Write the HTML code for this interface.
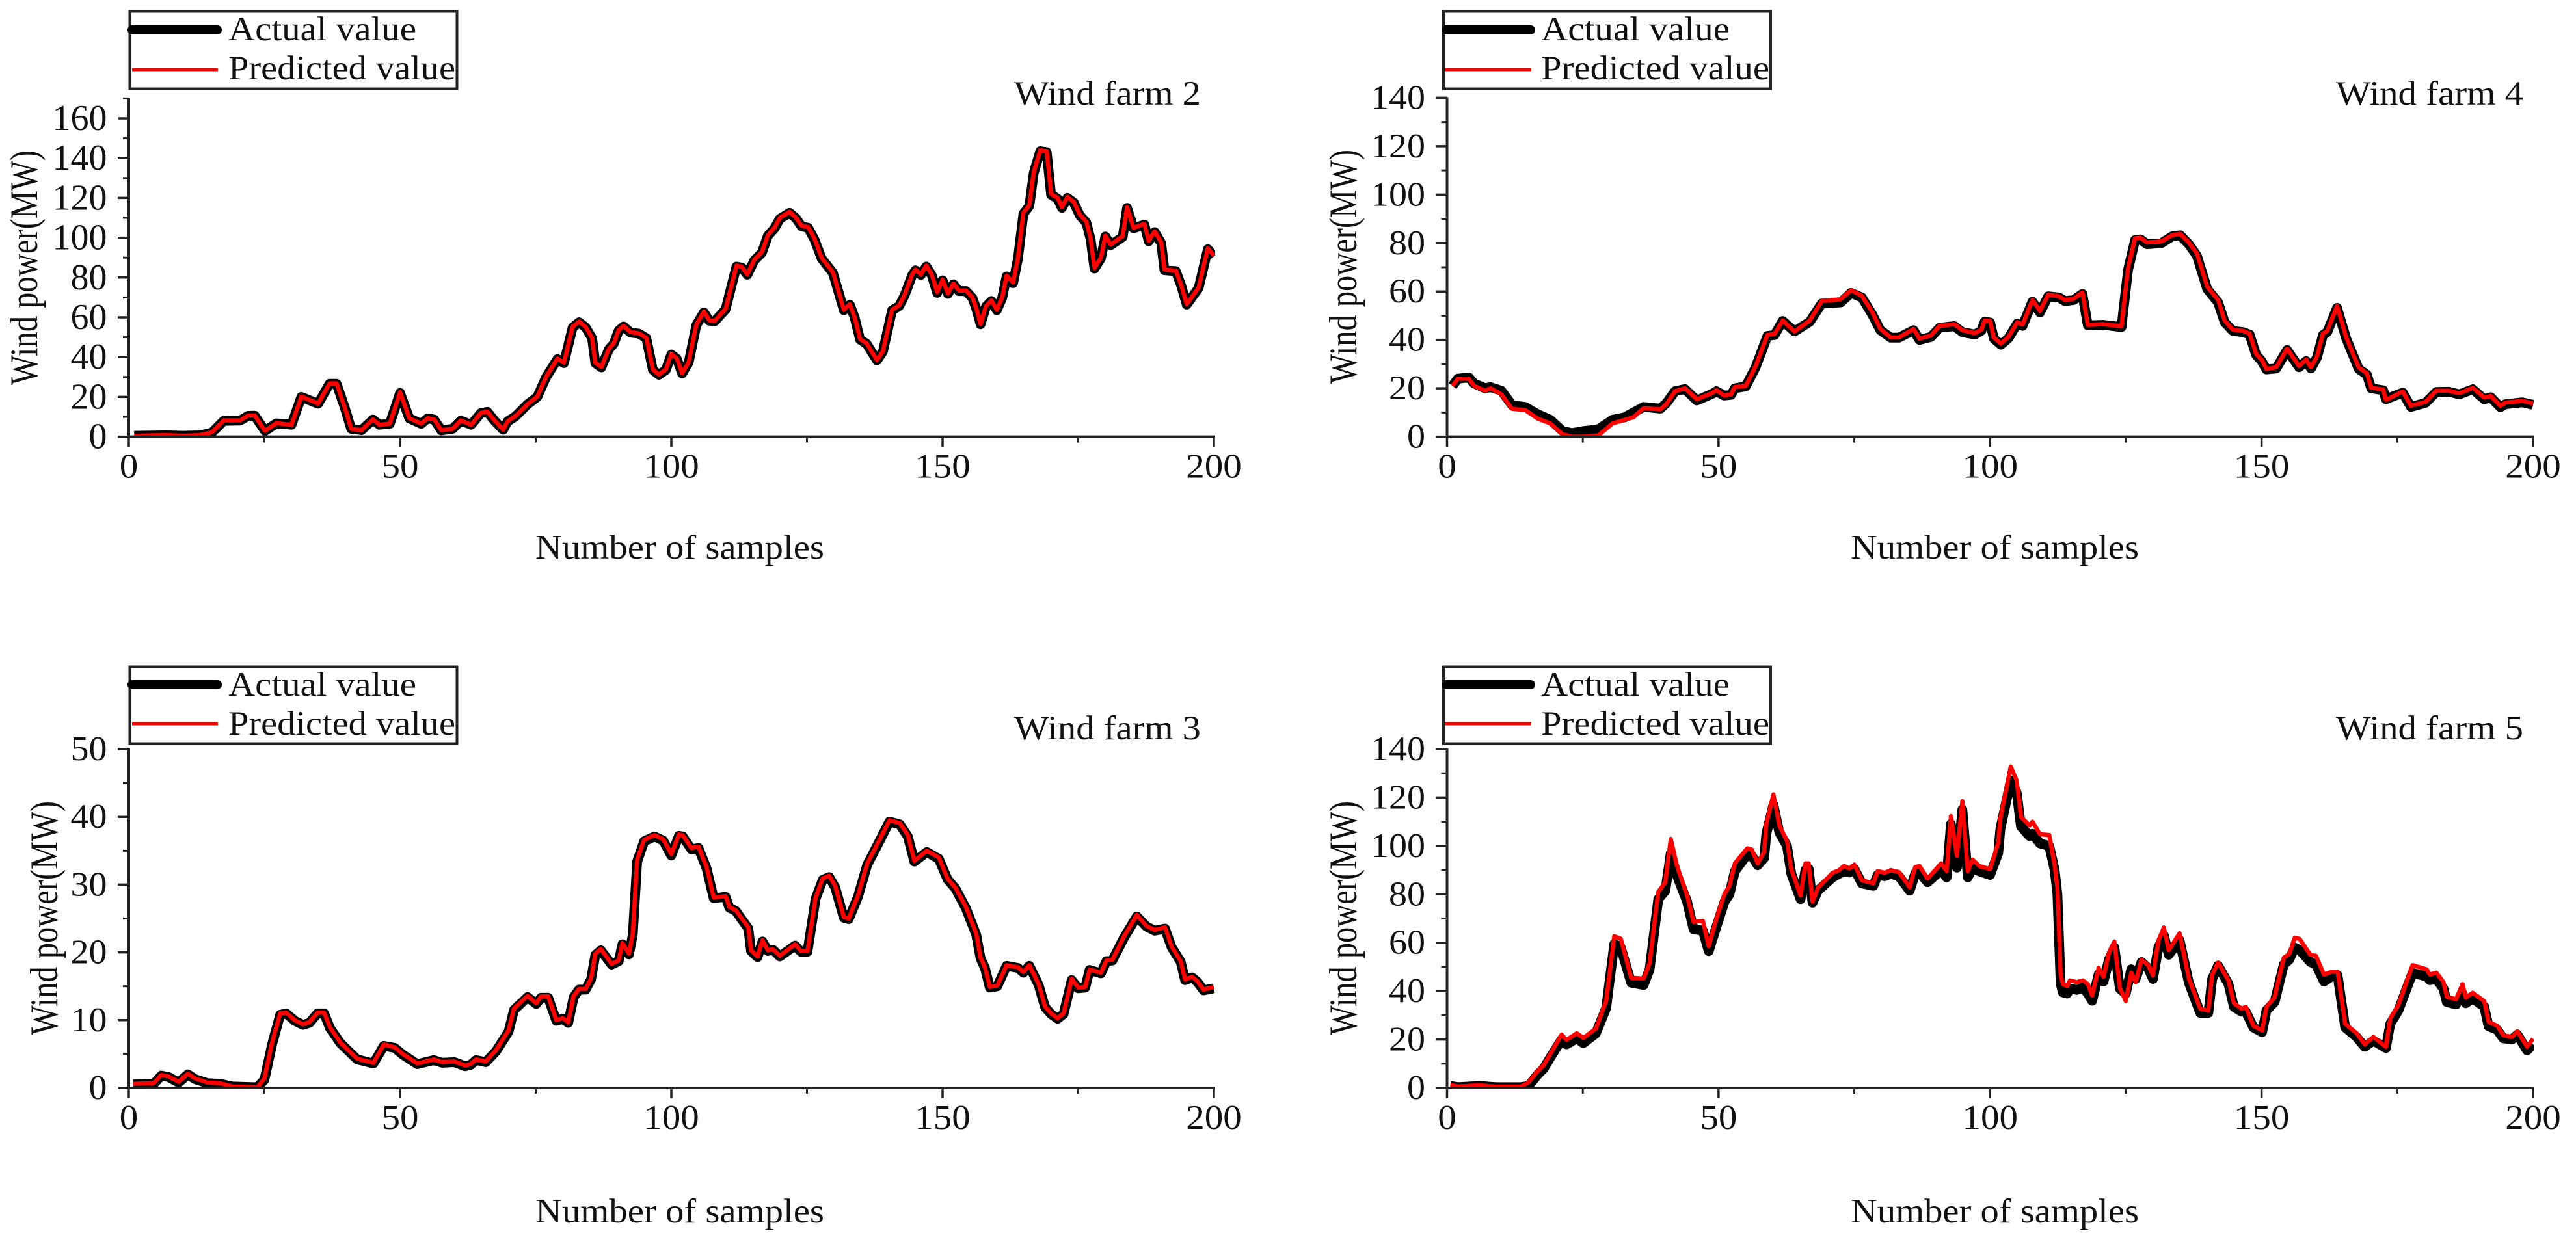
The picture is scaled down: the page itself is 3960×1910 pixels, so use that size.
<!DOCTYPE html>
<html lang="en">
<head>
<meta charset="utf-8">
<title>Wind power prediction for four wind farms</title>
<style>
html,body{margin:0;padding:0;background:#fff;width:3960px;height:1910px;overflow:hidden}
svg{display:block;position:absolute;left:0;top:0}
text{font-family:"Liberation Serif",serif;fill:#111}
.legend-text,.title-text{font-size:53px}
.x-title{font-size:53px}
.y-title{font-size:60px}
</style>
</head>
<body>
<svg id="figure" width="3960" height="1910" viewBox="0 0 3960 1910" xmlns="http://www.w3.org/2000/svg">
  <rect x="0" y="0" width="3960" height="1910" fill="#fff"/>

  <g id="panel-wf2"></g>
  <g id="panel-wf4"></g>
  <g id="panel-wf3"></g>
  <g id="panel-wf5"></g>

  <!-- wind farm 2 labels -->
  <g>
    <rect x="199.5" y="17.5" width="503" height="119" fill="#fff" stroke="#222" stroke-width="4"/>
    <line x1="203" y1="46" x2="334" y2="46" stroke="#000" stroke-width="14" stroke-linecap="round"/>
    <line x1="203" y1="107" x2="335" y2="107" stroke="#f00" stroke-width="5"/>
    <text class="legend-text" x="351" y="62" textLength="289" lengthAdjust="spacingAndGlyphs">Actual value</text>
    <text class="legend-text" x="351" y="122" textLength="349" lengthAdjust="spacingAndGlyphs">Predicted value</text>
  </g>
  <text class="title-text" x="1559" y="161" textLength="287" lengthAdjust="spacingAndGlyphs">Wind farm 2</text>
  <text class="x-title" x="823" y="859" textLength="444" lengthAdjust="spacingAndGlyphs">Number of samples</text>
  <text class="y-title" transform="translate(57,592) rotate(-90)" textLength="361" lengthAdjust="spacingAndGlyphs">Wind power(MW)</text>

  <!-- wind farm 4 labels -->
  <g>
    <rect x="2219" y="17.5" width="503" height="119" fill="#fff" stroke="#222" stroke-width="4"/>
    <line x1="2223" y1="46" x2="2353" y2="46" stroke="#000" stroke-width="14" stroke-linecap="round"/>
    <line x1="2221" y1="107" x2="2354" y2="107" stroke="#f00" stroke-width="5"/>
    <text class="legend-text" x="2369" y="62" textLength="290" lengthAdjust="spacingAndGlyphs">Actual value</text>
    <text class="legend-text" x="2369" y="122" textLength="351" lengthAdjust="spacingAndGlyphs">Predicted value</text>
  </g>
  <text class="title-text" x="3591" y="161" textLength="288" lengthAdjust="spacingAndGlyphs">Wind farm 4</text>
  <text class="x-title" x="2845" y="859" textLength="443" lengthAdjust="spacingAndGlyphs">Number of samples</text>
  <text class="y-title" transform="translate(2085,590) rotate(-90)" textLength="360" lengthAdjust="spacingAndGlyphs">Wind power(MW)</text>

  <!-- wind farm 3 labels -->
  <g>
    <rect x="199.5" y="1025.5" width="503" height="118" fill="#fff" stroke="#222" stroke-width="4"/>
    <line x1="203" y1="1053" x2="334" y2="1053" stroke="#000" stroke-width="14" stroke-linecap="round"/>
    <line x1="203" y1="1113" x2="335" y2="1113" stroke="#f00" stroke-width="5"/>
    <text class="legend-text" x="351" y="1070" textLength="289" lengthAdjust="spacingAndGlyphs">Actual value</text>
    <text class="legend-text" x="351" y="1130" textLength="349" lengthAdjust="spacingAndGlyphs">Predicted value</text>
  </g>
  <text class="title-text" x="1559" y="1137" textLength="287" lengthAdjust="spacingAndGlyphs">Wind farm 3</text>
  <text class="x-title" x="823" y="1880" textLength="444" lengthAdjust="spacingAndGlyphs">Number of samples</text>
  <text class="y-title" transform="translate(88,1592) rotate(-90)" textLength="360" lengthAdjust="spacingAndGlyphs">Wind power(MW)</text>

  <!-- wind farm 5 labels -->
  <g>
    <rect x="2219" y="1025.5" width="503" height="118" fill="#fff" stroke="#222" stroke-width="4"/>
    <line x1="2223" y1="1053" x2="2353" y2="1053" stroke="#000" stroke-width="14" stroke-linecap="round"/>
    <line x1="2221" y1="1113" x2="2354" y2="1113" stroke="#f00" stroke-width="5"/>
    <text class="legend-text" x="2369" y="1070" textLength="290" lengthAdjust="spacingAndGlyphs">Actual value</text>
    <text class="legend-text" x="2369" y="1130" textLength="351" lengthAdjust="spacingAndGlyphs">Predicted value</text>
  </g>
  <text class="title-text" x="3591" y="1137" textLength="288" lengthAdjust="spacingAndGlyphs">Wind farm 5</text>
  <text class="x-title" x="2845" y="1880" textLength="443" lengthAdjust="spacingAndGlyphs">Number of samples</text>
  <text class="y-title" transform="translate(2085,1592) rotate(-90)" textLength="360" lengthAdjust="spacingAndGlyphs">Wind power(MW)</text>
</svg>

<script>
const xTickLabels = [0, 50, 100, 150, 200];
const xMinorTicks = [25, 75, 125, 175];

const wf2YTicks = [0, 20, 40, 60, 80, 100, 120, 140, 160];
const wf2YMinor = [10, 30, 50, 70, 90, 110, 130, 150, 170];
const wf4YTicks = [0, 20, 40, 60, 80, 100, 120, 140];
const wf4YMinor = [10, 30, 50, 70, 90, 110, 130];
const wf3YTicks = [0, 10, 20, 30, 40, 50];
const wf3YMinor = [5, 15, 25, 35, 45];
const wf5YTicks = [0, 20, 40, 60, 80, 100, 120, 140];
const wf5YMinor = [10, 30, 50, 70, 90, 110, 130];

const wf2Samples = [1,7,10,13,15.3,17.5,20.5,22,23.2,25.1,27.2,30,31.8,34.9,37,38.3,39.8,41,42.9,45,46.2,48.1,50,51.7,53.9,55.1,56.3,57.6,59.7,61.2,63.1,64.9,66.1,67.4,69,69.8,71.3,73.5,75.3,76.9,79,80.2,81.8,83,84.2,85.4,86,87.1,88.5,89.4,90.3,91.2,92.5,94,95.4,96.6,97.7,99,100,101,102,103.2,104.6,106,107,108,110,112,113,114,115.3,116.7,117.8,119,120,121.8,123,124,125.2,126.4,127.7,129.8,131.8,132.9,133.8,134.8,136,137.9,139,140.7,142,143,144.4,145,146,147,148,149,150,151,152,153,154.3,155.5,156.2,157,158,159,160,161,161.8,163,163.9,164.9,166,166.8,168,169.2,170,171.2,172,173,174.2,175.3,176.5,177.3,178,179.2,180,181,183.2,184,185.2,187.2,188,189.1,190.3,190.9,193,194,195,197.2,198.9,200];
const wf2Predicted = [0.5,0.8,0.5,0.8,2.2,8.2,8.2,10.7,10.7,3,6.8,6,20.2,16.7,26.8,26.8,14.8,4,3.3,8.7,6,6.6,22.4,9.3,6.6,9.3,8.7,3.3,4,8.2,6,12,12.6,8.2,3.6,7.7,10.4,16.4,20.2,30,39.3,37.2,55.2,57.9,55.2,49.7,37.2,35,44.3,47,53.6,55.7,52.5,52,49.7,33.8,31.3,33.8,41.6,39.4,31.9,37.5,56.3,62.9,58.5,58.2,64.2,86,85.4,81.6,89,92.9,101.3,105,110,113,110,106,105.4,99.4,90,82.6,63.8,66.6,60,49,46.9,38.5,43,63.8,66,71.3,81.6,84,81.6,86,81.6,72.6,79,72,77,73.5,73.5,70,64.7,56.7,65.7,68.5,63.8,70,81,77.5,90,112.6,116.3,133,144,143.5,122,120,115.4,120.5,118,111.6,108,99.4,84.8,90,101,96.6,100.8,115.4,105,107,98.5,103.2,97.6,84,83.5,76,66.6,75,94.7,91];
const wf2Actual = [0.5,0.7,0.5,0.7,2,8,8.1,10.5,10.6,2.9,6.7,6,20,16.6,26.6,26.6,14.7,4,3.3,8.6,6,6.5,22,9.2,6.5,9.2,8.6,3.2,4,8.1,6,11.9,12.5,8.1,3.5,7.6,10.3,16.3,20,29.8,39,37,54.8,57.5,55,49.5,37,34.8,44,46.8,53.3,55.4,52.3,51.8,49.5,33.6,31.1,33.6,41.3,39.2,31.8,37.3,56,62.5,58.3,58,64,85.5,85,81.4,88.6,92.5,101,104.6,109.5,112.5,109.7,105.7,105,99,89.6,82.3,63.6,66.3,59.8,48.8,46.7,38.4,42.8,63.5,65.7,71,81.2,83.6,81.3,85.5,81.2,72.3,78.6,71.8,76.6,73.2,73.2,69.7,64.4,56.5,65.4,68.2,63.6,69.8,80.6,77.2,89.6,112,116,132.5,143.5,143,121.6,119.6,115,120,117.6,111.2,107.6,99,84.5,89.7,100.6,96.3,100.4,115,104.7,106.6,98.2,102.8,97.2,83.7,83.2,75.8,66.4,74.7,94.2,90.6];

const wf4Samples = [1,2,4,5,7,8,10,12,14.4,16.7,19,21.3,23,25,27.8,30.5,32.7,34.3,36.2,39.3,40.4,42,43.8,46,48.8,49.6,51,52.3,53,55,56.8,59,60.3,61.8,64,66.8,69,72.5,74.4,76.4,78.3,79.8,81.7,83.2,85.9,87,89.1,90.7,93.4,94.9,97.2,98.4,99,100,100.7,102,103.4,105,106,107.8,109.2,110.7,112.7,113.8,115.4,117,118,120.8,124.2,125.4,126.7,127.7,128.9,131.6,133.5,135,136.6,138.1,140,142,143.2,144.7,146.6,147.8,149,150,150.9,152.7,154.7,156.9,158.2,159.1,160.2,161.3,162.1,163.9,165.6,167.9,169.4,170.2,172.4,172.9,176,177.5,180.2,182.2,184.5,186.4,188.9,191,192.2,194,194.9,198,200];
const wf4Predicted = [21,24,24,21,19,20,17.5,11.5,11,7.5,5.5,1,0,0,0.5,5.5,7,8,11.8,11.3,13.5,18.8,20,15.5,18,19.3,17,17.5,20.5,21,29,42,42.5,48,43.5,48,56,56.8,60.5,58.2,51.5,44.5,41,41,44.5,40.5,41.8,45.8,46.5,44,42.8,44.2,48,47.8,41,38.5,41.3,47.3,46.3,56.5,52,58.6,58,56.5,57,59.6,46.2,46.5,45.7,69.6,82,82.2,80.2,80.7,83.2,83.8,80.2,75.7,62,56.5,48,44.2,43.7,42.6,34.2,31.8,28,28.7,36.4,29.2,31.8,28.7,33.2,42.6,43.7,53.9,41,28.6,26.2,20.2,19.5,15.2,18.7,12.8,14.4,19,19,17.9,20.2,16.2,16.8,12.8,14.1,14.8,13.8];
const wf4Actual = [21,24,24.5,22,20,20.5,19,13,12.3,9.3,7,2.3,1.5,2.3,3,7,8,10,12.3,11.6,13.9,18.8,19.7,15,17.7,18.8,17,17.3,20,20.8,28.5,41.6,42,47.8,43.5,47.5,55,55.5,59.4,57.5,50.5,44,40.9,40.9,44,40,41.2,45,45.7,43.2,42.2,43.8,47.5,47.2,40.5,38,40.7,46.7,45.8,55.8,51.3,58,57.5,56,56.5,59,46,46.2,45.3,68.8,81.2,81.5,79.5,80,82.7,83.2,79.5,74.7,61,55.5,47.3,43.7,43.2,42.2,33.8,31.3,27.8,28.2,35.8,28.7,31.2,28.2,32.7,42,43.2,53.2,40.5,28,25.6,20,19.2,15.5,18.2,12.3,14,18.5,18.6,17.5,19.6,15.5,16.3,12.2,13.4,14.2,13.2];

const wf3Samples = [0.8,4.6,6,7.3,9.2,10.9,12.2,14.5,16.8,19.1,23.7,25,26.4,27.9,29,30.6,32.1,33.3,34.8,36,37.1,39,42.1,45.1,47,49,50.5,53.2,56.2,57.8,60,62,63,64,65.8,67.7,70,71,73.5,75.1,76,77.3,78.8,80,81,82,83,84.2,85.2,86,87,89,90.3,91,92.2,92.9,93.7,95,96.9,98.5,100,101.4,102.1,103.7,105,106.5,107.8,110,110.7,111.9,114.2,114.7,115.9,116.8,117.8,118.7,120,122.8,123.9,125.1,126.6,127.9,129.1,130.2,131.8,132.7,134.4,136.1,138.1,140.2,142.1,143.6,144.8,147.1,149.3,150.9,152.4,154.3,156.2,157,157.8,158.7,160.1,161.8,163.9,164.9,166,167.7,168.9,170,171.2,172.3,173.8,175,176.3,177.1,179.2,180.2,181.3,183.4,185.8,187.6,189.1,191,192.2,193.9,194.7,196,197,198.1,200];
const wf3Predicted = [0.6,0.7,1.9,1.7,0.9,2.1,1.4,0.8,0.7,0.2,0.1,1.4,6.7,11,11.1,10,9.4,9.7,11.1,11.1,8.9,6.7,4.3,3.7,6.4,6,5,3.6,4.2,3.8,3.9,3.3,3.5,4.2,3.9,5.6,8.5,11.7,13.6,12.5,13.5,13.5,10,10.3,9.7,13.6,14.6,14.6,16.1,19.8,20.5,18.3,18.8,21.4,19.8,22.8,33.7,36.6,37.3,36.7,34.5,37.4,37.3,35.4,35.6,32.6,28.1,28.3,26.7,26.2,23.7,20.3,19.4,21.8,20.3,20.5,19.5,21.2,20.2,20.2,28.1,30.9,31.3,29.8,25.2,25,28.4,33.1,36.2,39.5,39.1,37.3,33.5,35,34,30.9,29.5,26.7,22.8,19.2,17.8,14.9,15.1,18.1,17.8,17.1,18.1,15.3,12,11,10.3,11,16.1,14.8,14.9,17.5,17,18.8,18.9,22.3,25.5,23.9,23.3,23.7,20.9,18.7,16,16.4,15.7,14.5,14.9];
const wf3Actual = [0.5,0.6,1.8,1.6,0.8,2,1.3,0.7,0.6,0.2,0.1,1.2,6.4,10.8,11,9.9,9.3,9.6,11,11,8.8,6.6,4.2,3.6,6.2,5.9,4.9,3.5,4.1,3.7,3.8,3.2,3.4,4.1,3.8,5.4,8.3,11.5,13.4,12.4,13.3,13.3,9.9,10.2,9.6,13.4,14.5,14.5,16,19.6,20.3,18.2,18.7,21.2,19.7,22.6,33.4,36.4,37.1,36.5,34.3,37.2,37.1,35.2,35.4,32.4,28,28.2,26.6,26.1,23.5,20.2,19.3,21.6,20.2,20.4,19.4,21,20.1,20.1,27.9,30.7,31.1,29.6,25.1,24.9,28.2,32.9,36,39.3,38.9,37.1,33.4,34.8,33.8,30.8,29.4,26.5,22.6,19.1,17.7,14.8,15,18,17.7,17,18,15.2,11.9,10.9,10.2,10.9,15.9,14.7,14.8,17.4,16.9,18.7,18.8,22.1,25.3,23.8,23.2,23.5,20.8,18.6,15.9,16.3,15.6,14.4,14.7];

const wf5Samples = [0.6,2.1,6,9,13.6,15,16.7,17.8,19,21.1,22,23.9,25.1,27.4,29.3,30.8,32,33.9,36.2,37.3,38.9,40.2,41.2,42.3,44.2,45.4,47.1,48.2,49.6,51.1,52,53,55.3,56.1,57.2,58.4,58.8,60.1,61.2,62.6,63.4,65.1,66,66.6,67.3,68.3,71,72.2,73.1,74.1,75,76.4,78.5,79.3,80.6,81.7,83.2,85.2,86.2,87,88.5,91,92,92.8,93.9,94.9,95.9,96.8,98,100,101.5,101.9,103.8,104.9,105.7,107.3,107.8,109.2,110.9,111.9,112.4,113,113.4,114.2,114.7,116,117.1,118,118.8,120,120.9,121.9,122.9,123.9,125,126,126.8,127.9,129.1,130,131,132,132.9,134.9,136.6,138.7,140.2,140.9,142,143.9,144.9,146.3,147.1,148.5,150.1,150.9,152.4,154.1,155.1,156.1,157,159,160,161.5,162.9,164,165.4,167.5,169,170.6,172.9,173.7,175.2,177.8,180.4,181,182.2,183.5,184.1,185.8,187,187.6,188.9,191,191.8,193.4,194.5,196.1,197.1,198.9,200];
const wf5Predicted = [1.2,0.6,1.1,0.5,0.5,2.3,7,9.4,14,22,19.8,22.6,20.6,24.5,35.9,62.7,61.6,45.5,45.2,51.5,81,85,102.9,92,79.5,68.6,69,58.5,69.8,80.3,83.4,92.8,99,98.5,92.8,97.4,109,121.3,108.4,102,90.4,79.5,92.8,92.8,77,82.6,88.9,90,91.7,90.7,92.3,85.8,84.5,89.6,88.9,90,89.2,82.9,91.2,91.7,86.5,92.8,89.6,112.3,95.9,118.5,89.6,94.3,91.7,90.4,101.3,111.4,132.8,127,112,108.4,110,104.8,104.5,92,82.6,46.8,42.9,42,44.4,43.7,44.4,42.9,38.2,49.6,46,56,60.5,41.3,35.9,47.6,43.7,53,50.7,46.5,60.8,66.3,56.9,63.9,45.2,32.7,32,46.8,51.8,44.4,35,32.7,33.5,25.7,23.7,33.5,37.4,53.8,55.3,62,61.6,54.9,54.6,46.8,48,48,26.5,22.6,18,21,17,28.8,34.3,50.7,49,46.8,47.6,43.7,37.7,36.6,42.9,37.4,39.3,35.9,27.3,25.7,21.8,21,23.4,17,20.3];
const wf5Actual = [0.8,0.3,0.8,0.3,0.3,0.8,5.5,8,12.5,20,18,20.5,18.5,22.5,33,59.5,58,43.5,42.5,49,78,81.5,97,88,77,65.5,65,56.5,66.5,77,80,89.5,96.5,96,92,95,105,117,105.5,100,88.5,78,90,90.5,76.5,81.5,87,88.5,89.5,89,90.5,84.5,83.5,88,87.5,88.5,87.5,81.5,88.5,89,85,90,87,109,91,115,87,91,89.5,88,97,107,127,122,108,104,105,101,100,90,80,43,39.5,39,41,40.5,41.5,39,36,47,44,53,58,41,39,49,45,52,49.5,45,58,63,55,61,43.5,31,31,45,50.5,43,33.5,31.5,31.5,25,23,32,35.5,51,53,58,57,52,51,44,46,46.5,25,21,17,19.5,16.5,26.5,32,47.5,46,44.5,45,41,35.5,34.5,39,35,37,33.5,25.5,24,20.5,20,22,15.5,18];

const SVG_NS = 'http://www.w3.org/2000/svg';

function drawPanel(groupId, box, yMax, samples, actual, predicted, yTicks, yMinor, actualWidth) {
  const group = document.getElementById(groupId);
  const scaleX = v => box.left + (v / 200) * (box.right - box.left);
  const scaleY = v => box.bottom - (v / yMax) * (box.bottom - box.top);

  const clip = document.createElementNS(SVG_NS, 'clipPath');
  clip.setAttribute('id', groupId + '-clip');
  const clipRect = document.createElementNS(SVG_NS, 'rect');
  clipRect.setAttribute('x', box.left - 20);
  clipRect.setAttribute('y', box.top - 20);
  clipRect.setAttribute('width', box.right - box.left + 22);
  clipRect.setAttribute('height', box.bottom - box.top + 22);
  clip.appendChild(clipRect);
  group.appendChild(clip);

  const pathFor = values => {
    const n = Math.min(samples.length, values.length);
    let d = '';
    for (let i = 0; i < n; i++) {
      d += (i ? 'L' : 'M') + scaleX(samples[i]).toFixed(1) + ' ' + scaleY(values[i]).toFixed(1);
    }
    return d;
  };

  const actualLine = document.createElementNS(SVG_NS, 'path');
  
  
  actualLine.setAttribute('d', pathFor(actual));
  actualLine.setAttribute('fill', 'none');
  actualLine.setAttribute('stroke', '#000');
  actualLine.setAttribute('stroke-width', actualWidth);
  actualLine.setAttribute('stroke-linejoin', 'round');
  actualLine.setAttribute('clip-path', 'url(#' + groupId + '-clip)');
  group.appendChild(actualLine);

  const predictedLine = document.createElementNS(SVG_NS, 'path');
  
  
  predictedLine.setAttribute('d', pathFor(predicted));
  predictedLine.setAttribute('fill', 'none');
  predictedLine.setAttribute('stroke', '#f00');
  predictedLine.setAttribute('stroke-width', 6.5);
  predictedLine.setAttribute('stroke-linejoin', 'round');
  predictedLine.setAttribute('clip-path', 'url(#' + groupId + '-clip)');
  group.appendChild(predictedLine);

  const segment = (x1, y1, x2, y2, width) => {
    const el = document.createElementNS(SVG_NS, 'line');
    el.setAttribute('x1', x1);
    el.setAttribute('y1', y1);
    el.setAttribute('x2', x2);
    el.setAttribute('y2', y2);
    el.setAttribute('stroke', '#222');
    el.setAttribute('stroke-width', width);
    group.appendChild(el);
    return el;
  };

  const xAxis = segment(box.left - 2, box.bottom, box.right + 2, box.bottom, 4);
  
  

  const yAxis = segment(box.left, box.top - 1, box.left, box.bottom + 2, 4);
  
  

  xTickLabels.forEach(v => {
    const tick = segment(scaleX(v), box.bottom, scaleX(v), box.bottom + 16, 3.5);
    
    
    const label = document.createElementNS(SVG_NS, 'text');
    
    
    const w = String(v).length * 28.5;
    label.setAttribute('x', scaleX(v) - w / 2);
    label.setAttribute('y', box.bottom + box.xLabelGap);
    label.setAttribute('font-size', 53);
    label.setAttribute('textLength', w);
    label.setAttribute('lengthAdjust', 'spacingAndGlyphs');
    label.textContent = v;
    group.appendChild(label);
  });

  xMinorTicks.forEach(v => {
    const tick = segment(scaleX(v), box.bottom, scaleX(v), box.bottom + 9, 3);
    
    
  });

  yTicks.forEach(v => {
    const tick = segment(box.left - 17, scaleY(v), box.left, scaleY(v), 3.5);
    
    
    const label = document.createElementNS(SVG_NS, 'text');
    
    
    const w = String(v).length * 28;
    label.setAttribute('x', box.left - 33.5 - w);
    label.setAttribute('y', scaleY(v) + box.yLabelDrop);
    label.setAttribute('font-size', box.yLabelSize);
    label.setAttribute('textLength', w);
    label.setAttribute('lengthAdjust', 'spacingAndGlyphs');
    label.textContent = v;
    group.appendChild(label);
  });

  yMinor.forEach(v => {
    const tick = segment(box.left - 9, scaleY(v), box.left, scaleY(v), 3);
    
    
  });
}

drawPanel('panel-wf2', {left:198, right:1866, top:151.4, bottom:671.6, xLabelGap:63, yLabelDrop:18, yLabelSize:56}, 170, wf2Samples, wf2Actual, wf2Predicted, wf2YTicks, wf2YMinor, 15);
drawPanel('panel-wf4', {left:2224.5, right:3894, top:150.4, bottom:671.6, xLabelGap:63, yLabelDrop:17, yLabelSize:53}, 140, wf4Samples, wf4Actual, wf4Predicted, wf4YTicks, wf4YMinor, 15);
drawPanel('panel-wf3', {left:198, right:1866, top:1152, bottom:1673, xLabelGap:63, yLabelDrop:17, yLabelSize:53}, 50, wf3Samples, wf3Actual, wf3Predicted, wf3YTicks, wf3YMinor, 15);
drawPanel('panel-wf5', {left:2224.5, right:3894, top:1152, bottom:1673, xLabelGap:63, yLabelDrop:17, yLabelSize:53}, 140, wf5Samples, wf5Actual, wf5Predicted, wf5YTicks, wf5YMinor, 15);
</script>
</body>
</html>
